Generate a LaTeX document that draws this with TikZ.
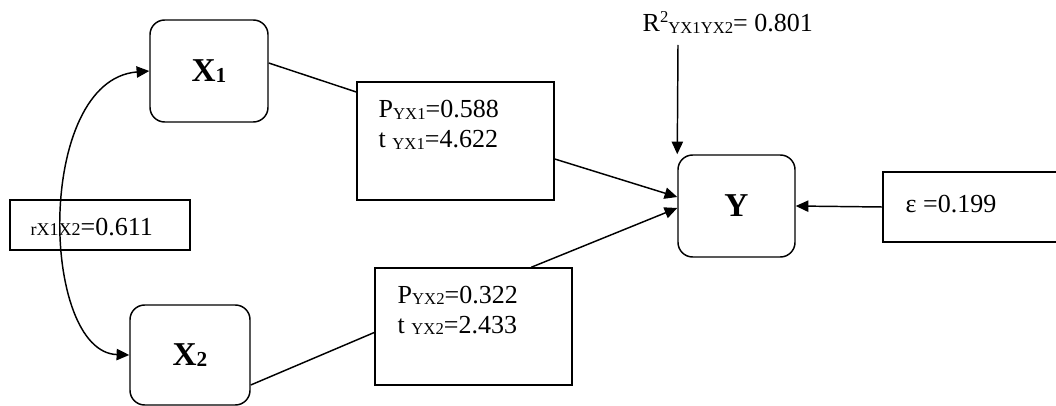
\documentclass[tikz,border=0pt]{standalone}
\usepackage{fontspec}
\setmainfont{Liberation Serif}
\usetikzlibrary{arrows.meta,calc}
\newcommand{\smsub}[1]{\raisebox{-1.2pt}{\fontsize{12.5}{12.5}\selectfont #1}}
\newcommand{\vsub}[1]{\raisebox{-0.5pt}{\fontsize{16}{16}\selectfont #1}}
\begin{document}
\begin{tikzpicture}[x=0.75pt,y=-0.75pt,
  font=\fontsize{19.5}{22.5}\selectfont,
  line width=1.1pt,
  var/.style={draw, rounded corners=11pt, inner sep=0pt, font=\fontsize{25}{25}\selectfont\bfseries},
  box/.style={draw, rectangle, inner sep=0pt},
  txt/.style={inner sep=0pt, anchor=base west},
  tip/.tip={Triangle[length=9.5pt,width=8.5pt]},
  arr/.style={-tip},
]
\useasboundingbox (0,0) rectangle (1056,406);

% variable boxes
\node[var, minimum width=88.5pt, minimum height=76.5pt] (X1) at (209,71) {X\vsub{1}};
\node[var, minimum width=90pt, minimum height=75pt] (X2) at (190,355) {X\vsub{2}};
\node[var, minimum width=87.75pt, minimum height=76.5pt] (Y) at (736.5,206) {Y};

% coefficient boxes
\node[box, minimum width=135pt, minimum height=37.5pt] (rb) at (100,225) {};
\node[txt] (rt) at (30,235) {{\fontsize{13.5}{13.5}\selectfont rX1X2}=0.611};

\node[box, minimum width=147.75pt, minimum height=88.5pt] (P1) at (455.5,141) {};
\node[txt] (p1a) at (378,118) {P\smsub{YX1}=0.588};
\node[txt] (p1b) at (378,148) {t \smsub{YX1}=4.622};

\node[box, minimum width=147.75pt, minimum height=87.75pt] (P2) at (473.5,326.5) {};
\node[txt] (p2a) at (397,303) {P\smsub{YX2}=0.322};
\node[txt] (p2b) at (397,333) {t \smsub{YX2}=2.433};

\node[box, minimum width=140.25pt, minimum height=52.5pt] (eps) at (976.5,207) {};
\node[txt] (epst) at (905,212) {ε =0.199};

\node[txt] (R2) at (642,32) {R\raisebox{7pt}{\fontsize{12.5}{12.5}\selectfont 2}\smsub{YX1YX2}= 0.801};
\coordinate (r2a) at (678,45);

% connectors
\draw ($(X1.east)+(0,-8)$) -- ($(P1.west)+(0,-49)$);
\draw[arr] ($(P1.east)+(0,18)$) -- ($(Y.west)+(0,-9)$);
\draw ($(X2.east)+(0,30)$) -- ($(P2.west)+(0,6)$);
\draw[arr] ($(P2.north west)+(157,0)$) -- ($(Y.west)+(0,2)$);
\draw[arr] (eps.west) -- (Y.east);
\draw[arr] (r2a) -- (Y.north west);
\draw[tip-tip] (X1.west) .. controls (35,80) and (40,352) .. (X2.west);
\end{tikzpicture}
\end{document}
